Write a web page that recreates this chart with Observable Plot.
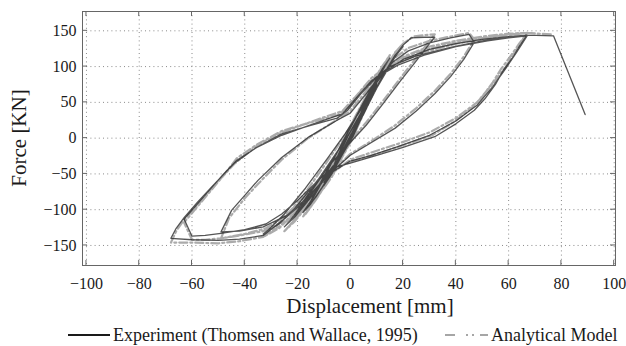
<!DOCTYPE html>
<html>
<head>
<meta charset="utf-8">
<script src="https://cdn.jsdelivr.net/npm/d3@7"></script>
<script src="https://cdn.jsdelivr.net/npm/@observablehq/plot@0.6"></script>
<style>
  html, body { margin: 0; padding: 0; background: #fff; }
  #wrap { position: relative; width: 626px; height: 346px; font-family: "Liberation Serif", "Times New Roman", serif; color: #222; }
  #legend { position: absolute; left: 0; top: 320px; width: 626px; height: 26px; }
</style>
</head>
<body>
<div id="wrap">
  <div id="chart"></div>
  <svg id="legend" width="626" height="26"></svg>
</div>
<script>
// ---- data (displacement [mm], force [kN]) ----
const xTicks = [-100, -80, -60, -40, -20, 0, 20, 40, 60, 80, 100];
const yTicks = [-150, -100, -50, 0, 50, 100, 150];

const experiment = [
  [0,0],[3,22],[5,38],[3,24],[0,4],[-3,-18],[-5,-33],[-3,-20],[0,2],
  [4,32],[7,55],[10,76],[8,62],[3,28],[-1,2],[-5,-30],[-8,-52],[-10,-66],[-7,-50],[-2,-16],[1,8],
  [5,42],[8,62],[10,74],[7,54],[2,22],[-3,-10],[-7,-44],[-10,-62],[-7,-46],[-2,-12],[1,10],
  [6,48],[10,80],[13,100],[15,112],[12,96],[6,56],[0,14],[-6,-26],[-11,-60],[-15,-88],[-18,-104],[-15,-92],[-8,-55],[-1,-8],
  [5,44],[9,74],[12,94],[14,106],[11,90],[5,50],[-1,8],[-7,-34],[-12,-70],[-16,-96],[-17,-100],[-13,-82],[-6,-42],[0,-4],
  [5,36],[10,70],[14,98],[17,116],[20,128],[17,114],[11,76],[4,32],[-3,-8],[-10,-46],[-17,-84],[-22,-112],[-25,-124],[-21,-110],[-13,-74],[-5,-32],[1,2],
  [6,44],[11,78],[15,104],[18,120],[19,124],[16,108],[10,70],[3,26],[-4,-14],[-11,-54],[-18,-92],[-23,-116],[-24,-120],[-20,-104],[-12,-66],[-4,-26],[1,4],
  [7,48],[12,84],[16,110],[20,130],[23,140],[28,141],[32,141],[30,132],[25,108],[19,80],[12,46],[6,18],[0,-6],[-7,-34],[-14,-66],[-21,-98],[-27,-120],[-33,-134],[-31,-128],[-25,-106],[-17,-70],[-9,-30],[-2,6],
  [4,40],[10,78],[16,106],[22,122],[30,133],[38,140],[45,145],[47,134],[43,110],[38,86],[32,62],[25,38],[17,14],[8,-6],[0,-24],[-8,-50],[-16,-82],[-24,-108],[-33,-124],[-42,-130],[-49,-131],
  [-45,-101],[-40,-80],[-35,-59],[-26,-27],[-16,1],[-5,25],[0,35],[6,62],[12,90],[20,110],[30,124],[40,132],[50,138],[60,142],[67,144],
  [64,128],[62,115],[58,95],[55,75],[51,55],[47,39],[40,20],[32,2],[20,-13],[10,-24],[0,-35],[-7,-42],[-13,-62],[-20,-87],[-26,-106],[-32,-120],[-40,-128],[-49,-133],[-55,-136],[-60,-137],[-63,-113],
  [-58,-92],[-53,-71],[-48,-50],[-43,-31],[-35,-12],[-26,6],[-15,18],[-5,28],[-1,39],[4,62],[10,85],[18,102],[28,116],[40,128],[52,136],[60,140],[67,143],
  [63,120],[59,98],[54,72],[48,46],[40,24],[30,4],[18,-12],[8,-24],[0,-32],[-8,-50],[-16,-84],[-24,-110],[-33,-136],[-42,-141],[-50,-143],[-60,-142],[-68,-140],
  [-66,-126],[-63,-111],[-58,-90],[-52,-66],[-44,-35],[-36,-14],[-26,4],[-14,20],[-3,34],[2,55],[8,80],[15,100],[25,115],[38,127],[50,136],[60,141],[67,144],[77,143],[89,33]
];

const analytical = [
  [0,0],[3,24],[5,40],[3,26],[0,6],[-3,-16],[-5,-36],[-3,-22],[0,0],
  [4,34],[7,58],[10,78],[8,64],[3,30],[-1,4],[-5,-32],[-8,-56],[-10,-70],[-7,-54],[-2,-18],[1,6],
  [5,44],[8,66],[10,76],[7,56],[2,24],[-3,-12],[-7,-48],[-10,-66],[-7,-50],[-2,-14],[1,8],
  [6,50],[10,84],[13,104],[15,116],[12,100],[6,58],[0,16],[-6,-30],[-11,-64],[-15,-92],[-18,-110],[-15,-96],[-8,-58],[-1,-10],
  [5,46],[9,78],[12,98],[14,110],[11,94],[5,52],[-1,10],[-7,-38],[-12,-74],[-16,-100],[-17,-106],[-13,-86],[-6,-46],[0,-6],
  [5,38],[10,74],[14,102],[17,120],[20,132],[17,118],[11,80],[4,34],[-3,-10],[-10,-50],[-17,-90],[-22,-118],[-25,-130],[-21,-116],[-13,-80],[-5,-36],[1,0],
  [6,46],[11,82],[15,108],[18,124],[19,128],[16,112],[10,74],[3,28],[-4,-16],[-11,-58],[-18,-98],[-23,-122],[-24,-126],[-20,-110],[-12,-70],[-4,-28],[1,2],
  [7,50],[12,88],[16,114],[20,132],[24,142],[28,144],[32,145],[30,136],[25,112],[19,84],[12,50],[6,22],[0,-4],[-7,-36],[-14,-70],[-21,-104],[-27,-126],[-33,-138],[-31,-132],[-25,-112],[-17,-76],[-9,-34],[-2,4],
  [4,42],[10,82],[16,110],[22,126],[30,136],[38,142],[45,147],[47,138],[43,114],[38,90],[32,66],[25,42],[17,18],[8,-4],[0,-22],[-8,-50],[-16,-86],[-24,-114],[-33,-130],[-42,-136],[-49,-140],
  [-46,-112],[-40,-84],[-35,-64],[-26,-30],[-16,0],[-5,26],[0,38],[6,66],[12,94],[20,114],[30,128],[40,136],[50,142],[60,146],[67,147],
  [64,132],[61,116],[57,96],[54,78],[50,58],[46,42],[39,22],[31,4],[20,-10],[10,-22],[0,-33],[-7,-44],[-13,-66],[-20,-92],[-26,-112],[-32,-126],[-40,-134],[-49,-140],[-55,-142],[-60,-142],[-63,-118],
  [-58,-96],[-53,-74],[-48,-52],[-43,-28],[-35,-8],[-26,10],[-15,22],[-5,32],[-1,42],[4,66],[10,88],[18,106],[28,120],[40,132],[52,140],[60,144],[67,147],
  [63,124],[59,100],[54,76],[48,50],[40,28],[30,8],[18,-8],[8,-20],[0,-30],[-8,-52],[-16,-88],[-24,-116],[-33,-138],[-42,-144],[-50,-147],[-60,-146],[-68,-146],
  [-66,-130],[-63,-114],[-58,-94],[-52,-68],[-44,-36],[-36,-12],[-26,8],[-14,24],[-3,38],[2,58],[8,84],[15,104],[25,120],[38,132],[50,140],[60,145],[67,147],[76,145]
];

const seriesNames = ["Experiment (Thomsen and Wallace, 1995)", "Analytical Model"];
const xLabel = "Displacement [mm]";
const yLabel = "Force [KN]";

// ---- styles ----
const expColor = "#2a2a2a";
const anaColor = "#a6a6a6";
const anaDash = "8,3,2,3";
const fontFamily = '"Liberation Serif", "Times New Roman", serif';
const fmt = d => (d < 0 ? "\u2212" : "") + Math.abs(d);

const plot = Plot.plot({
  width: 626,
  height: 320,
  marginLeft: 82,
  marginRight: 11,
  marginTop: 11,
  marginBottom: 55,
  style: { fontFamily, fontSize: "16px", color: "#1a1a1a", background: "#fff" },
  x: { domain: [-101.5, 100.5], ticks: xTicks, tickFormat: fmt, label: null },
  y: { domain: [-178, 177], ticks: yTicks, tickFormat: fmt, label: null },
  marks: [
    Plot.gridX(xTicks, { stroke: "#8a8a8a", strokeOpacity: 1, strokeDasharray: "1,3.2" }),
    Plot.gridY(yTicks, { stroke: "#8a8a8a", strokeOpacity: 1, strokeDasharray: "1,3.2" }),
    Plot.line(analytical, { x: d => d[0], y: d => d[1], stroke: anaColor, strokeWidth: 2.2, strokeDasharray: anaDash, strokeOpacity: 0.95 }),
    Plot.line(experiment, { x: d => d[0], y: d => d[1], stroke: expColor, strokeWidth: 1.3, strokeOpacity: 0.8 }),
    Plot.frame({ stroke: "#666", strokeWidth: 1 }),
    Plot.axisX(xTicks, { tickSize: 0, tickPadding: 12, tickFormat: fmt, fontSize: 16 }),
    Plot.axisY(yTicks, { tickSize: 0, tickPadding: 6, tickFormat: fmt, fontSize: 16 })
  ]
});
document.getElementById("chart").appendChild(plot);

// inward ticks on all four sides + axis titles
const svg = d3.select(plot);
const sx = plot.scale("x"), sy = plot.scale("y");
const [x0, x1] = sx.range, [y0, y1] = sy.range; // y0 bottom, y1 top
const g = svg.append("g").attr("stroke", "#666").attr("stroke-width", 1);
for (const t of xTicks) {
  const px = sx.apply(t);
  g.append("line").attr("x1", px).attr("x2", px).attr("y1", y0).attr("y2", y0 - 5);
  g.append("line").attr("x1", px).attr("x2", px).attr("y1", y1).attr("y2", y1 + 5);
}
for (const t of yTicks) {
  const py = sy.apply(t);
  g.append("line").attr("x1", x0).attr("x2", x0 + 5).attr("y1", py).attr("y2", py);
  g.append("line").attr("x1", x1).attr("x2", x1 - 5).attr("y1", py).attr("y2", py);
}
svg.append("text").attr("x", 370).attr("y", 313).attr("text-anchor", "middle")
  .attr("font-family", fontFamily).attr("font-size", 21).attr("fill", "#1a1a1a").text(xLabel);
svg.append("text").attr("transform", `translate(26,${(y0 + y1) / 2}) rotate(-90)`).attr("text-anchor", "middle")
  .attr("font-family", fontFamily).attr("font-size", 21).attr("fill", "#1a1a1a").text(yLabel);

// legend
const lg = d3.select("#legend");
lg.append("line").attr("x1", 68).attr("x2", 110).attr("y1", 15).attr("y2", 15).attr("stroke", "#1a1a1a").attr("stroke-width", 2);
lg.append("text").attr("x", 113).attr("y", 21).attr("font-family", fontFamily).attr("font-size", 18).attr("fill", "#1a1a1a").text(seriesNames[0]);
lg.append("line").attr("x1", 445).attr("x2", 488).attr("y1", 15).attr("y2", 15).attr("stroke", anaColor).attr("stroke-width", 2).attr("stroke-dasharray", "10,11,2,4,2,6,10");
lg.append("text").attr("x", 491).attr("y", 21).attr("font-family", fontFamily).attr("font-size", 18).attr("fill", "#1a1a1a").text(seriesNames[1]);
</script>
</body>
</html>
